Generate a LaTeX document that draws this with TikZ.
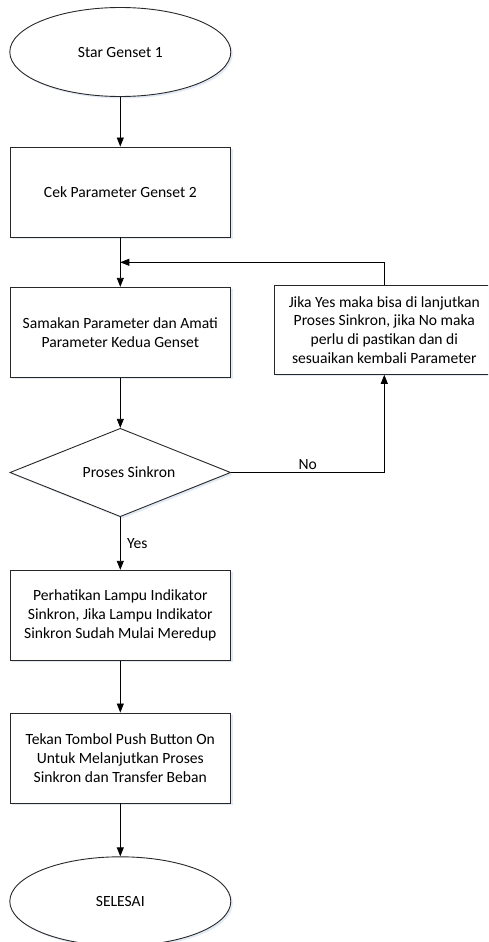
\documentclass[tikz,border=0pt]{standalone}
\usepackage{fontspec}
\setmainfont{Carlito}
\usetikzlibrary{shapes.geometric,arrows.meta,shadows}
\definecolor{shd}{RGB}{226,234,246}
\definecolor{ln}{RGB}{40,40,40}
\begin{document}
\begin{tikzpicture}[x=1pt,y=-1pt,
  every node/.style={font=\fontsize{15.6}{18.7}\selectfont, text=black},
  shp/.style={draw=ln, line width=0.9pt, fill=white, inner sep=0pt, align=center,
    general shadow={fill=shd, shadow xshift=2pt, shadow yshift=-2pt}},
  stepbox/.style={shp, rectangle, minimum width=220.7pt, minimum height=90pt},
  term/.style={shp, ellipse, minimum width=221pt, minimum height=89pt},
  decide/.style={shp, diamond, minimum width=220.7pt, minimum height=88.4pt},
  arr/.style={draw=black, line width=0.8pt, -{Triangle[length=9pt,width=7pt]}},
  lbl/.style={font=\fontsize{15.6}{18}\selectfont}
]
\clip (0,0) rectangle (488,942);
\fill[white] (0,0) rectangle (488,942);

\node[term] (start) at (120.3,52) {Star Genset 1};
\node[stepbox] (cek) at (120.3,192) {Cek Parameter Genset 2};
\node[stepbox] (sama) at (120.3,332.3) {Samakan Parameter dan Amati\\Parameter Kedua Genset};
\node[stepbox, minimum height=89.3pt] (jika) at (384.3,329.7) {Jika Yes maka bisa di lanjutkan\\Proses Sinkron, jika No maka\\perlu di pastikan dan di\\sesuaikan kembali Parameter};
\node[decide] (dec) at (120.3,472.5) {};
\node at (129,472.5) {Proses Sinkron};
\node[stepbox] (lampu) at (120.3,615.3) {Perhatikan Lampu Indikator\\Sinkron, Jika Lampu Indikator\\Sinkron Sudah Mulai Meredup};
\node[stepbox] (tekan) at (120.3,758) {Tekan Tombol Push Button On\\Untuk Melanjutkan Proses\\Sinkron dan Transfer Beban};
\node[term] (end) at (120.3,901.3) {SELESAI};

\coordinate (join) at (120.3,262.3);

\draw[arr] (start) -- (cek);
\draw[arr] (cek) -- (sama);
\draw[arr] (jika.north) |- (join);
\draw[arr] (sama) -- (dec);
\draw[arr] (dec.east) -| node[pos=0.25, above, lbl, inner sep=2pt] {No} (jika.south);
\draw[arr] (dec.south) -- node[midway, right, lbl, xshift=3pt] {Yes} (lampu.north);
\draw[arr] (lampu) -- (tekan);
\draw[arr] (tekan) -- (end);
\end{tikzpicture}
\end{document}
